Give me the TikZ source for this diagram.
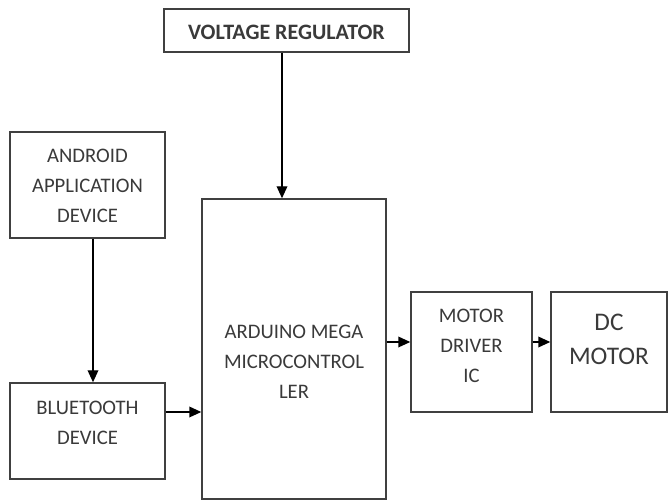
\documentclass[tikz,border=0pt]{standalone}
\usepackage{fontspec}
\setmainfont{Carlito}
\usetikzlibrary{arrows.meta}
\definecolor{linegray}{HTML}{404040}
\definecolor{txtgray}{HTML}{3A3A3A}
\begin{document}
\begin{tikzpicture}[x=0.75pt,y=-0.75pt,
  box/.style={draw=linegray, line width=1.1pt, rectangle, inner sep=0pt, fill=white},
  lbl/.style={text=txtgray, font=\fontsize{15.5}{22.5}\selectfont, align=center, inner sep=0pt},
  big/.style={text=txtgray, font=\fontsize{19}{26}\selectfont, align=center, inner sep=0pt},
  arr/.style={draw=black, line width=1.1pt, -{Triangle[length=9pt,width=8pt]}}]
\useasboundingbox[fill=white] (0,0) rectangle (672,502);
% boxes
\node[box, minimum width=183.75pt, minimum height=32pt] (vr) at (286.5,30.5) {};
\node[box, minimum width=116.25pt, minimum height=79.5pt] (and) at (87.5,185) {};
\node[box, minimum width=116.25pt, minimum height=72pt] (bt) at (87.5,431) {};
\node[box, minimum width=138pt, minimum height=225pt] (ard) at (294,349) {};
\node[box, minimum width=90.75pt, minimum height=90pt] (md) at (471.5,352) {};
\node[box, minimum width=87pt, minimum height=90pt] (dc) at (609,352) {};
% texts
\node[lbl, font=\fontsize{16.5}{22.5}\selectfont\bfseries] (vrt) at (286.5,32) {VOLTAGE REGULATOR};
\node[lbl] (andt) at (87.5,185.5) {ANDROID\\APPLICATION\\DEVICE};
\node[lbl] (btt) at (87.5,422.5) {BLUETOOTH\\DEVICE};
\node[lbl] (ardt) at (294,362) {ARDUINO MEGA\\MICROCONTROL\\LER};
\node[lbl] (mdt) at (471.5,346) {MOTOR\\DRIVER\\IC};
\node[big] (dct) at (609,339.5) {DC\\MOTOR};
% guide coordinates
\coordinate (xv) at (282,0);
\coordinate (xa) at (93,0);
\coordinate (yb) at (0,412);
\coordinate (ym) at (0,342);
% connectors
\draw[arr] (xv |- vr.south) -- (xv |- ard.north);
\draw[arr] (xa |- and.south) -- (xa |- bt.north);
\draw[arr] (bt.east |- yb) -- (ard.west |- yb);
\draw[arr] (ard.east |- ym) -- (md.west |- ym);
\draw[arr] (md.east |- ym) -- (dc.west |- ym);
\end{tikzpicture}
\end{document}
